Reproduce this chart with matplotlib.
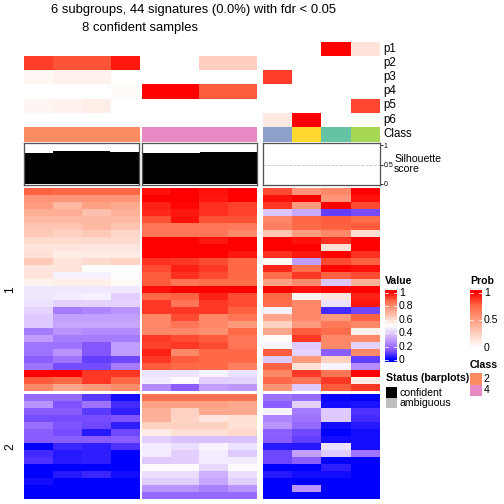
import numpy as np
import matplotlib
matplotlib.use("Agg")
import matplotlib.pyplot as plt
from matplotlib.colors import LinearSegmentedColormap, to_rgb

plt.rcParams['font.family'] = ['Liberation Sans', 'DejaVu Sans']

# ---------------- data ----------------
title_1 = "6 subgroups, 44 signatures (0.0%) with fdr < 0.05"
title_2 = "8 confident samples"
prob_labels = ["p1", "p2", "p3", "p4", "p5", "p6"]

prob = np.array([
    [0, 0, 0, 0,          0, 0, 0, 0,          0, 0, 1.0, 0.15],
    [0.85, 0.80, 0.80, 0.94, 0, 0, 0.25, 0.25, 0, 0, 0, 0],
    [0.04, 0.07, 0.07, 0,  0, 0, 0, 0,          0.85, 0, 0, 0],
    [0, 0, 0, 0.02,       1.0, 1.0, 0.78, 0.78, 0, 0, 0, 0],
    [0.05, 0.07, 0.09, 0, 0, 0, 0, 0,          0, 0, 0, 0.83],
    [0, 0, 0, 0,          0, 0, 0, 0,          0.11, 1.0, 0, 0],
])

class_colors = ["#FC8D62"] * 4 + ["#E78AC3"] * 4 + ["#8DA0CB", "#FFD92F", "#66C2A5", "#A6D854"]
legend_classes = ["2", "4"]
legend_class_colors = ["#FC8D62", "#E78AC3"]

silhouette = [0.80, 0.85, 0.85, 0.82, 0.80, 0.80, 0.83, 0.83, 0, 0, 0, 0]

value_1 = np.array([
    [0.88, 0.87, 0.87, 0.87, 0.98, 1.00, 0.98, 1.00, 0.91, 0.77, 0.80, 1.00],
    [0.77, 0.77, 0.77, 0.77, 1.00, 1.00, 0.97, 1.00, 0.98, 1.00, 0.77, 0.98],
    [0.75, 0.68, 0.74, 0.72, 0.96, 0.99, 0.94, 0.92, 0.93, 0.76, 1.00, 0.91],
    [0.71, 0.71, 0.66, 0.70, 0.95, 0.97, 0.94, 0.92, 0.38, 0.32, 0.10, 0.12],
    [0.68, 0.68, 0.68, 0.68, 0.90, 0.98, 0.90, 0.90, 0.80, 0.87, 0.89, 0.86],
    [0.65, 0.65, 0.68, 0.65, 0.84, 0.84, 0.84, 0.83, 0.82, 0.87, 0.88, 0.89],
    [0.64, 0.62, 0.64, 0.60, 0.84, 0.84, 0.84, 0.80, 0.65, 0.75, 0.80, 0.58],
    [0.59, 0.59, 0.59, 0.59, 1.00, 1.00, 0.97, 1.00, 1.00, 0.98, 0.94, 1.00],
    [0.57, 0.57, 0.56, 0.56, 1.00, 1.00, 1.00, 1.00, 1.00, 1.00, 0.58, 1.00],
    [0.58, 0.55, 0.55, 0.55, 1.00, 1.00, 1.00, 0.97, 0.94, 0.97, 1.00, 0.94],
    [0.64, 0.57, 0.59, 0.61, 0.94, 0.93, 0.91, 0.87, 0.51, 0.29, 0.91, 0.88],
    [0.57, 0.57, 0.50, 0.50, 0.91, 0.96, 0.93, 0.87, 0.95, 0.86, 0.99, 0.98],
    [0.57, 0.47, 0.47, 0.50, 0.89, 0.94, 0.91, 0.87, 0.86, 0.93, 0.88, 0.91],
    [0.53, 0.54, 0.54, 0.51, 0.89, 0.84, 0.86, 0.86, 0.74, 0.79, 0.38, 0.70],
    [0.45, 0.45, 0.45, 0.45, 0.98, 1.00, 1.00, 1.00, 1.00, 0.98, 1.00, 1.00],
    [0.45, 0.46, 0.47, 0.40, 0.87, 0.88, 0.96, 0.91, 0.87, 0.52, 0.56, 0.96],
    [0.44, 0.41, 0.41, 0.41, 0.93, 0.84, 0.93, 0.91, 0.86, 0.80, 0.44, 0.97],
    [0.41, 0.22, 0.24, 0.27, 0.93, 0.93, 0.93, 0.88, 0.47, 0.80, 0.07, 0.11],
    [0.39, 0.30, 0.30, 0.30, 0.80, 0.91, 0.80, 0.84, 0.73, 0.80, 0.76, 0.88],
    [0.39, 0.31, 0.31, 0.31, 0.80, 0.84, 0.80, 0.76, 0.62, 0.76, 0.83, 0.80],
    [0.22, 0.27, 0.25, 0.25, 0.80, 0.80, 0.78, 0.87, 0.73, 0.89, 0.86, 0.54],
    [0.29, 0.22, 0.22, 0.22, 0.93, 0.91, 0.89, 0.84, 0.51, 0.93, 0.80, 0.80],
    [0.20, 0.20, 0.14, 0.29, 0.92, 0.93, 0.91, 0.84, 0.48, 0.39, 0.80, 0.41],
    [0.20, 0.27, 0.14, 0.29, 0.96, 0.80, 0.87, 0.87, 0.89, 0.41, 0.16, 0.80],
    [0.16, 0.20, 0.10, 0.11, 0.93, 0.89, 0.87, 0.87, 0.39, 0.76, 0.62, 0.10],
    [0.20, 0.12, 0.12, 0.22, 0.89, 0.87, 0.87, 0.82, 0.88, 0.58, 0.48, 0.25],
    [1.00, 1.00, 0.93, 0.93, 0.44, 0.44, 0.48, 0.44, 0.80, 0.93, 0.84, 1.00],
    [0.89, 0.87, 0.93, 0.87, 0.46, 0.49, 0.40, 0.41, 0.87, 0.84, 0.93, 0.55],
    [0.80, 0.73, 0.76, 0.79, 0.25, 0.16, 0.30, 0.28, 0.77, 0.39, 0.89, 0.93],
])

value_2 = np.array([
    [0.18, 0.18, 0.09, 0.02, 0.85, 0.85, 0.85, 0.85, 0.20, 0.18, 0.01, 0.00],
    [0.27, 0.13, 0.20, 0.07, 0.74, 0.74, 0.74, 0.72, 0.16, 0.40, 0.02, 0.03],
    [0.15, 0.15, 0.09, 0.05, 0.70, 0.62, 0.72, 0.72, 0.48, 0.22, 0.39, 0.08],
    [0.12, 0.12, 0.12, 0.13, 0.70, 0.61, 0.56, 0.58, 0.24, 0.20, 0.39, 0.07],
    [0.19, 0.13, 0.11, 0.05, 0.62, 0.62, 0.62, 0.58, 0.27, 0.18, 0.02, 0.04],
    [0.15, 0.12, 0.04, 0.11, 0.55, 0.58, 0.58, 0.60, 0.16, 0.11, 0.00, 0.02],
    [0.15, 0.15, 0.15, 0.15, 0.40, 0.37, 0.37, 0.37, 0.15, 0.10, 0.02, 0.02],
    [0.00, 0.06, 0.05, 0.08, 0.46, 0.43, 0.48, 0.44, 0.04, 0.04, 0.44, 0.02],
    [0.07, 0.04, 0.05, 0.00, 0.46, 0.40, 0.46, 0.39, 0.11, 0.30, 0.39, 0.20],
    [0.08, 0.04, 0.05, 0.00, 0.39, 0.40, 0.46, 0.46, 0.11, 0.16, 0.00, 0.00],
    [0.00, 0.00, 0.00, 0.00, 0.49, 0.49, 0.42, 0.49, 0.00, 0.00, 0.05, 0.00],
    [0.00, 0.04, 0.06, 0.02, 0.43, 0.43, 0.33, 0.43, 0.04, 0.02, 0.02, 0.00],
    [0.02, 0.00, 0.00, 0.00, 0.40, 0.40, 0.31, 0.40, 0.00, 0.00, 0.00, 0.00],
    [0.00, 0.00, 0.00, 0.00, 0.27, 0.27, 0.23, 0.27, 0.00, 0.27, 0.00, 0.00],
    [0.00, 0.00, 0.00, 0.00, 0.18, 0.18, 0.18, 0.18, 0.00, 0.00, 0.00, 0.00],
])

value_ticks = [0, 0.2, 0.4, 0.6, 0.8, 1]
prob_ticks = [0, 0.5, 1]

# ---------------- colours (LAB-like ramps as in ComplexHeatmap) ----------------
value_cmap = LinearSegmentedColormap.from_list("value", [
    (0.0, "#0000FF"), (0.125, "#7E51FF"), (0.25, "#B38BFF"), (0.375, "#DCC4FF"),
    (0.5, "#FFFFFF"), (0.625, "#FFCFBF"), (0.75, "#FF9E81"), (0.875, "#FF6846"),
    (1.0, "#FF0000")])
prob_cmap = LinearSegmentedColormap.from_list("prob", [
    (0.0, "#FFFFFF"), (0.25, "#FFCFBF"), (0.5, "#FF9E81"), (0.75, "#FF6846"),
    (1.0, "#FF0000")])

W = H = 504
fig = plt.figure(figsize=(W / 72, H / 72), dpi=72)


def px_axes(x0, y0, x1, y1):
    ax = fig.add_axes([x0 / W, 1 - y1 / H, (x1 - x0) / W, (y1 - y0) / H])
    return ax


def px_text(x, y, s, **kw):
    fig.text(x / W, 1 - y / H, s, **kw)


groups = [(24, 139.3), (142.3, 257.3), (263, 379.7)]
prob_top, prob_bot = 41.7, 126.7
class_top, class_bot = 127, 142
sil_top, sil_bot = 142.7, 185
c1_top, c1_bot = 188, 391
c2_top, c2_bot = 394, 499

for g, (x0, x1) in enumerate(groups):
    sl = slice(4 * g, 4 * g + 4)

    ax = px_axes(x0, prob_top, x1, prob_bot)
    ax.imshow(prob[:, sl], cmap=prob_cmap, vmin=0, vmax=1, aspect="auto",
              interpolation="nearest")
    ax.axis("off")

    ax = px_axes(x0, class_top, x1, class_bot)
    ax.imshow(np.array([[to_rgb(c) for c in class_colors[sl]]]), aspect="auto",
              interpolation="nearest")
    ax.axis("off")

    ax = px_axes(x0, sil_top, x1, sil_bot)
    ax.axhline(0.5, color="#c8c8c8", ls="--", lw=0.8, zorder=0)
    ax.bar(np.arange(4), silhouette[sl], width=1.0, color="black", zorder=2)
    ax.set_xlim(-0.5, 3.5)
    ax.set_ylim(-0.026, 1.06)
    ax.set_xticks([])
    for sp in ax.spines.values():
        sp.set_color("#555555")
        sp.set_linewidth(1.3)
    if g == 2:
        ax.yaxis.tick_right()
        ax.set_yticks([0, 0.5, 1])
        ax.set_yticklabels(["0", "0.5", "1"], fontsize=7)
        ax.tick_params(axis="y", length=3, width=0.8, pad=1)
    else:
        ax.set_yticks([])

    for (top, bot, data) in [(c1_top, c1_bot, value_1), (c2_top, c2_bot, value_2)]:
        ax = px_axes(x0, top, x1, bot)
        ax.imshow(data[:, sl], cmap=value_cmap, vmin=0, vmax=1, aspect="auto",
                  interpolation="nearest")
        ax.axis("off")

# annotation names
row_h = (prob_bot - prob_top) / 6
for i, lab in enumerate(prob_labels):
    px_text(383, prob_top + row_h * (i + 0.5), lab, fontsize=11.5, ha="left", va="center")
px_text(383, (class_top + class_bot) / 2, "Class", fontsize=11.5, ha="left", va="center")
px_text(394, 164, "Silhouette\nscore", fontsize=10.5, ha="left", va="center", linespacing=0.95)

# titles
px_text(193.5, 10, title_1, fontsize=13, ha="center", va="center")
px_text(140, 28, title_2, fontsize=13, ha="center", va="center")

# row split labels
px_text(10, (c1_top + c1_bot) / 2, "1", fontsize=12, rotation=90, ha="center", va="center")
px_text(10, (c2_top + c2_bot) / 2, "2", fontsize=12, rotation=90, ha="center", va="center")

# ---------------- legends ----------------
# Value
px_text(385, 281, "Value", fontsize=10.5, fontweight="bold", ha="left", va="center")
ax = px_axes(385, 290, 396.7, 362.3)
lo, hi = -0.034, 1.04
grad = np.linspace(lo, hi, 200).reshape(-1, 1)
ax.imshow(grad, cmap=value_cmap, vmin=0, vmax=1, aspect="auto", origin="lower",
          extent=[0, 1, lo, hi])
for v in value_ticks:
    ax.plot([0, 0.22], [v, v], color="white", lw=0.8)
    ax.plot([0.78, 1], [v, v], color="white", lw=0.8)
    px_text(399, 360 - v * 67.3, f"{v:g}", fontsize=10.5, ha="left", va="center")
ax.set_xlim(0, 1)
ax.set_ylim(lo, hi)
ax.axis("off")

# Prob
px_text(470, 281, "Prob", fontsize=10.5, fontweight="bold", ha="left", va="center")
ax = px_axes(470, 290, 481.7, 350)
lo, hi = -0.042, 1.049
grad = np.linspace(lo, hi, 200).reshape(-1, 1)
ax.imshow(grad, cmap=prob_cmap, vmin=0, vmax=1, aspect="auto", origin="lower",
          extent=[0, 1, lo, hi])
for v in prob_ticks:
    ax.plot([0, 0.22], [v, v], color="white", lw=0.8)
    ax.plot([0.78, 1], [v, v], color="white", lw=0.8)
    px_text(484, 347.7 - v * 55, f"{v:g}", fontsize=10.5, ha="left", va="center")
ax.set_xlim(0, 1)
ax.set_ylim(lo, hi)
ax.axis("off")

# Class
px_text(470, 365, "Class", fontsize=10.5, fontweight="bold", ha="left", va="center")
for i, (lab, col) in enumerate(zip(legend_classes, legend_class_colors)):
    y0 = 373.3 + i * 11.3
    ax = px_axes(470, y0, 481.7, y0 + 11.3)
    ax.set_facecolor(col)
    ax.set_xticks([])
    ax.set_yticks([])
    for sp in ax.spines.values():
        sp.set_visible(False)
    px_text(484, y0 + 5.6, lab, fontsize=10.5, ha="left", va="center")

# Status
px_text(385.7, 377.7, "Status (barplots)", fontsize=10.5, fontweight="bold", ha="left", va="center")
for i, (lab, col) in enumerate(zip(["confident", "ambiguous"], ["black", "#BEBEBE"])):
    y0 = 387.3 + i * 10.5
    ax = px_axes(385.7, y0, 396.7, y0 + 10.5)
    ax.set_facecolor(col)
    ax.set_xticks([])
    ax.set_yticks([])
    for sp in ax.spines.values():
        sp.set_visible(False)
    px_text(400, y0 + 5.2, lab, fontsize=10.5, ha="left", va="center")

fig.savefig("out.png", dpi=72)
